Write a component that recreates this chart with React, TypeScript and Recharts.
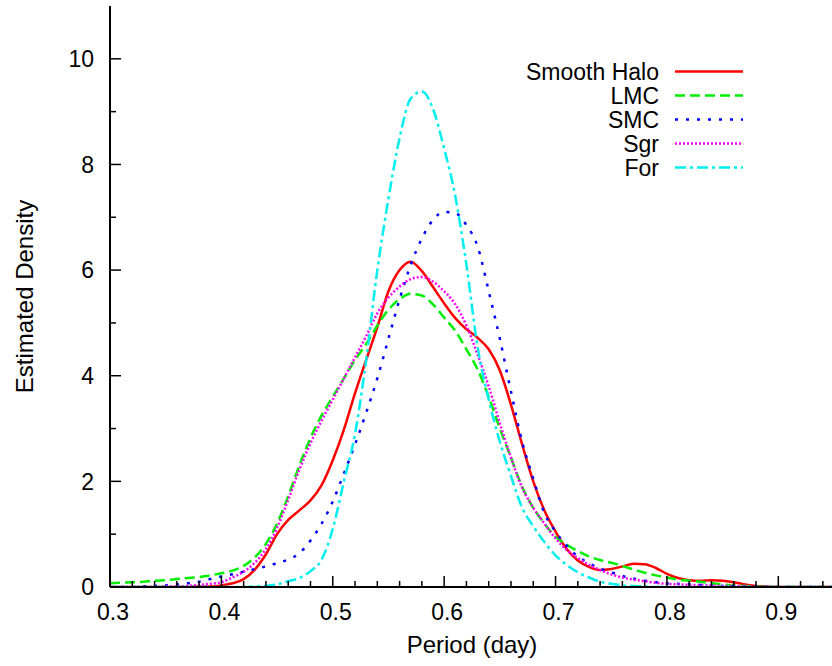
import React from 'react';
import { LineChart, Line, XAxis, YAxis, Legend } from 'recharts';

const periods = [
  0.30, 0.31, 0.32, 0.33, 0.34, 0.35, 0.36, 0.37, 0.38, 0.39,
  0.40, 0.41, 0.42, 0.43, 0.44, 0.45, 0.46, 0.47, 0.48, 0.49,
  0.50, 0.51, 0.52, 0.53, 0.54, 0.55, 0.56, 0.57, 0.58, 0.59,
  0.60, 0.61, 0.62, 0.63, 0.64, 0.65, 0.66, 0.67, 0.68, 0.69,
  0.70, 0.71, 0.72, 0.73, 0.74, 0.75, 0.76, 0.77, 0.78, 0.79,
  0.80, 0.81, 0.82, 0.83, 0.84, 0.85, 0.86, 0.87, 0.88, 0.89,
  0.90, 0.91, 0.92, 0.93, 0.94, 0.95,
];

const smoothHalo = [
  0, 0, 0, 0, 0, 0, 0, 0, 0.01, 0.01,
  0.03, 0.07, 0.15, 0.33, 0.62, 1.0, 1.27, 1.45, 1.64, 1.93,
  2.4, 2.98, 3.67, 4.3, 4.92, 5.6, 6.0, 6.16, 5.98, 5.68,
  5.37, 5.09, 4.88, 4.72, 4.5, 4.1, 3.45, 2.7, 2.0, 1.45,
  1.05, 0.72, 0.5, 0.38, 0.32, 0.34, 0.39, 0.44, 0.43, 0.36,
  0.25, 0.17, 0.13, 0.12, 0.13, 0.12, 0.09, 0.05, 0.02, 0.01,
  0, 0, 0, 0, 0, 0,
];

const lmc = [
  0.07, 0.08, 0.09, 0.1, 0.12, 0.13, 0.15, 0.17, 0.19, 0.22,
  0.26, 0.31, 0.4, 0.56, 0.82, 1.2, 1.72, 2.3, 2.82, 3.25,
  3.6, 3.95, 4.3, 4.6, 4.95, 5.25, 5.45, 5.55, 5.52, 5.35,
  5.1, 4.85, 4.5, 4.12, 3.6, 3.0, 2.45, 1.9, 1.5, 1.2,
  0.95, 0.8, 0.68, 0.58, 0.51, 0.46, 0.4, 0.33, 0.27, 0.22,
  0.18, 0.14, 0.12, 0.1, 0.07, 0.05, 0.03, 0.02, 0.01, 0,
  0, 0, 0, 0, 0, 0,
];

const smc = [
  0, 0, 0, 0.01, 0.02, 0.03, 0.05, 0.07, 0.1, 0.15,
  0.2, 0.24, 0.29, 0.34, 0.39, 0.45, 0.52, 0.64, 0.88, 1.2,
  1.62, 2.15, 2.7, 3.3, 3.95, 4.7, 5.45, 6.1, 6.6, 6.95,
  7.1, 7.08, 6.85, 6.45, 5.6, 4.7, 3.7, 2.75, 2.05, 1.4,
  1.05, 0.78, 0.58, 0.45, 0.35, 0.28, 0.21, 0.16, 0.12, 0.09,
  0.07, 0.06, 0.05, 0.04, 0.03, 0.02, 0.02, 0.01, 0.01, 0,
  0, 0, 0, 0, 0, 0,
];

const sgr = [
  0, 0, 0, 0, 0, 0.01, 0.01, 0.02, 0.04, 0.06,
  0.09, 0.18, 0.29, 0.46, 0.72, 1.12, 1.65, 2.22, 2.72, 3.15,
  3.55, 3.95, 4.35, 4.75, 5.18, 5.48, 5.69, 5.83, 5.87, 5.78,
  5.6, 5.35, 4.95, 4.4, 3.8, 3.1, 2.45, 1.88, 1.5, 1.2,
  0.92, 0.7, 0.55, 0.42, 0.32, 0.24, 0.18, 0.14, 0.11, 0.08,
  0.06, 0.05, 0.04, 0.04, 0.03, 0.02, 0.02, 0.01, 0, 0,
  0, 0, 0, 0, 0, 0,
];

const fornax = [
  0, 0, 0, 0, 0, 0, 0, 0, 0, 0,
  0, 0, 0, 0.01, 0.02, 0.05, 0.11, 0.17, 0.3, 0.52,
  1.1, 2.0, 2.9, 4.3, 6.0, 7.35, 8.5, 9.25, 9.38, 9.05,
  8.3, 7.4, 6.1, 4.55, 3.55, 2.75, 2.1, 1.5, 1.15, 0.85,
  0.6, 0.42, 0.28, 0.18, 0.1, 0.06, 0.03, 0.02, 0.01, 0,
  0, 0, 0, 0, 0, 0, 0, 0, 0, 0,
  0, 0, 0, 0, 0, 0,
];

const xTicks = [
  0.30, 0.32, 0.34, 0.36, 0.38, 0.40, 0.42, 0.44, 0.46, 0.48,
  0.50, 0.52, 0.54, 0.56, 0.58, 0.60, 0.62, 0.64, 0.66, 0.68,
  0.70, 0.72, 0.74, 0.76, 0.78, 0.80, 0.82, 0.84, 0.86, 0.88,
  0.90, 0.92, 0.94,
];
const yTicks = [0, 1, 2, 3, 4, 5, 6, 7, 8, 9, 10];

const seriesKeys = ['halo', 'lmc', 'smc', 'sgr', 'for'];
const seriesNames = ['Smooth Halo', 'LMC', 'SMC', 'Sgr', 'For'];
const seriesColors = ['#ff0000', '#00ee00', '#0000ff', '#ff00ff', '#00eeee'];
const seriesDashes = [undefined, '10 5', '3 8', '2 2', '11 4 3 4'];
const seriesValues = [smoothHalo, lmc, smc, sgr, fornax];

const data = periods.map((p, i) => {
  const row: Record<string, number> = { x: p };
  seriesKeys.forEach((k, j) => {
    row[k] = seriesValues[j][i];
  });
  return row;
});

const FONT = '"Liberation Sans", Arial, Helvetica, sans-serif';
const FS = 23;
const FS_BIG = 24;

const isMajorX = (v: number) => Math.abs(v * 10 - Math.round(v * 10)) < 1e-6;
const isMajorY = (v: number) => Math.round(v) % 2 === 0;

const BottomTick = (props: any) => {
  const { x, y, payload } = props;
  const major = isMajorX(payload.value);
  return (
    <g>
      <line x1={x} x2={x} y1={y} y2={y - (major ? 11 : 6)} stroke="#000" strokeWidth={1.5} />
      {major && (
        <text x={x + 3} y={y + 33} textAnchor="middle" fontSize={FS} fontFamily={FONT} fill="#000">
          {Number(payload.value).toFixed(1)}
        </text>
      )}
    </g>
  );
};

const TopTick = (props: any) => {
  const { x, y, payload } = props;
  const major = isMajorX(payload.value);
  return <line x1={x} x2={x} y1={y} y2={y + (major ? 11 : 6)} stroke="#000" strokeWidth={1.5} />;
};

const LeftTick = (props: any) => {
  const { x, y, payload } = props;
  const major = isMajorY(payload.value);
  return (
    <g>
      <line x1={x} x2={x + (major ? 11 : 6)} y1={y} y2={y} stroke="#000" strokeWidth={1.5} />
      {major && (
        <text x={x - 16} y={y} dy="0.36em" textAnchor="end" fontSize={FS} fontFamily={FONT} fill="#000">
          {payload.value}
        </text>
      )}
    </g>
  );
};

const RightTick = (props: any) => {
  const { x, y, payload } = props;
  const major = isMajorY(payload.value);
  return <line x1={x} x2={x - (major ? 11 : 6)} y1={y} y2={y} stroke="#000" strokeWidth={1.5} />;
};

const XTitle = (props: any) => {
  const vb = props.viewBox;
  return (
    <text x={vb.x + vb.width / 2} y={vb.y + 66} textAnchor="middle" fontSize={FS_BIG} fontFamily={FONT} fill="#000">
      Period (day)
    </text>
  );
};

const YTitle = (props: any) => {
  const vb = props.viewBox;
  const cx = vb.x + 33;
  const cy = vb.y + vb.height / 2;
  return (
    <text
      x={cx}
      y={cy}
      transform={`rotate(-90 ${cx} ${cy})`}
      textAnchor="middle"
      fontSize={FS_BIG}
      fontFamily={FONT}
      fill="#000"
    >
      Estimated Density
    </text>
  );
};

const LegendContent = () => (
  <svg width={260} height={130} style={{ overflow: 'visible' }}>
    {seriesNames.map((name, i) => {
      const cy = 16.5 + i * 24;
      return (
        <g key={name}>
          <text x={159} y={cy + 8.2} textAnchor="end" fontSize={FS} fontFamily={FONT} fill="#000">
            {name}
          </text>
          <line
            x1={175}
            x2={243}
            y1={cy}
            y2={cy}
            stroke={seriesColors[i]}
            strokeWidth={2.5}
            strokeDasharray={seriesDashes[i]}
          />
        </g>
      );
    })}
  </svg>
);

export default function App() {
  return (
    <div
      style={{
        position: 'absolute',
        left: 0,
        top: 0,
        width: 832,
        height: 666,
        overflow: 'hidden',
        background: '#fff',
      }}
    >
      <LineChart width={834} height={666} data={data} margin={{ top: 6, right: 0, bottom: 0, left: 0 }}>
        <XAxis
          xAxisId="bottom"
          dataKey="x"
          type="number"
          domain={[0.3, 0.95]}
          allowDataOverflow
          ticks={xTicks}
          interval={0}
          height={79}
          tickSize={0}
          tickMargin={0}
          tickLine={false}
          axisLine={{ stroke: '#000', strokeWidth: 2 }}
          tick={BottomTick}
          label={XTitle}
        />
        <XAxis
          xAxisId="top"
          orientation="top"
          dataKey="x"
          type="number"
          domain={[0.3, 0.95]}
          allowDataOverflow
          ticks={xTicks}
          interval={0}
          height={0}
          tickSize={0}
          tickMargin={0}
          tickLine={false}
          axisLine={{ stroke: '#000', strokeWidth: 2 }}
          tick={TopTick}
        />
        <YAxis
          yAxisId="left"
          type="number"
          domain={[0, 11]}
          allowDataOverflow
          ticks={yTicks}
          interval={0}
          width={110}
          tickSize={0}
          tickMargin={0}
          tickLine={false}
          axisLine={{ stroke: '#000', strokeWidth: 2 }}
          tick={LeftTick}
          label={YTitle}
        />
        <YAxis
          yAxisId="right"
          orientation="right"
          type="number"
          domain={[0, 11]}
          allowDataOverflow
          ticks={yTicks}
          interval={0}
          width={0}
          tickSize={0}
          tickMargin={0}
          tickLine={false}
          axisLine={{ stroke: '#000', strokeWidth: 2 }}
          tick={RightTick}
        />
        <Legend
          layout="horizontal"
          verticalAlign="middle"
          align="center"
          content={LegendContent}
          wrapperStyle={{ position: 'absolute', left: 500, top: 55, width: 260, height: 130 }}
        />
        {seriesKeys.map((k, i) => (
          <Line
            key={k}
            xAxisId="bottom"
            yAxisId="left"
            dataKey={k}
            name={seriesNames[i]}
            type="monotone"
            stroke={seriesColors[i]}
            strokeWidth={2.5}
            strokeDasharray={seriesDashes[i]}
            dot={false}
            activeDot={false}
            isAnimationActive={false}
          />
        ))}
      </LineChart>
    </div>
  );
}
